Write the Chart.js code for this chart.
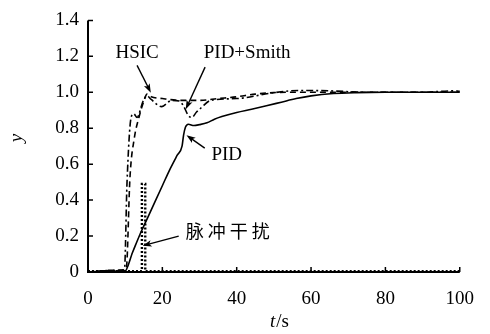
<!DOCTYPE html>
<html>
<head>
<meta charset="utf-8">
<script src="https://cdn.jsdelivr.net/npm/chart.js@4/dist/chart.umd.min.js"></script>
<style>
html,body{margin:0;padding:0;background:#fff;}
#wrap{width:490px;height:334px;position:relative;}
</style>
</head>
<body>
<div id="wrap"><canvas id="c" width="490" height="334"></canvas></div>
<script>
// ---- data ----
const xTicks = [0, 20, 40, 60, 80, 100];
const yTicks = [0, 0.2, 0.4, 0.6, 0.8, 1.0, 1.2, 1.4];

const pidT = [0, 3, 5, 7, 8.5, 9.8, 12, 14, 16, 18, 20, 22, 24, 25.3, 25.7, 26.2, 27, 28.5, 30, 32, 34, 36, 40, 44, 48, 52, 56, 60, 66, 72, 80, 100];
const pidY = [0, 0.004, 0.008, 0.004, 0.01, 0, 0.11, 0.21, 0.3, 0.39, 0.48, 0.57, 0.65, 0.7, 0.76, 0.805, 0.822, 0.815, 0.82, 0.83, 0.85, 0.865, 0.888, 0.906, 0.925, 0.945, 0.965, 0.98, 0.993, 0.998, 1.0, 1.0];

const hsicT = [0, 4, 6, 8, 9.5, 10.3, 11.3, 12.5, 13.7, 15, 15.9, 17, 20, 25, 30, 35, 40, 45, 50, 55, 100];
const hsicY = [0, 0.006, 0.01, 0.008, 0.012, 0.02, 0.53, 0.75, 0.86, 0.95, 0.99, 0.975, 0.965, 0.955, 0.955, 0.965, 0.975, 0.99, 0.998, 1.0, 1.0];

const smithT = [0, 5, 8, 9.8, 10.5, 11.6, 12.3, 13.2, 14.8, 15.9, 17, 19.8, 22.5, 24.5, 25.7, 27, 27.9, 29.2, 30.5, 33, 40, 50, 57, 65, 75, 90, 98, 100];
const smithY = [0, 0.005, 0.01, 0.01, 0.5, 0.86, 0.88, 0.86, 0.95, 0.98, 0.96, 0.92, 0.955, 0.952, 0.924, 0.87, 0.86, 0.89, 0.915, 0.955, 0.965, 0.998, 1.01, 1.008, 1.0, 1.0, 1.008, 1.005];

const pulseT = [0, 14.5, 14.5, 15.4, 15.4, 100];
const pulseY = [0.005, 0.005, 0.49, 0.49, 0.005, 0.005];

const labels = ["HSIC", "PID+Smith", "PID", "脉冲干扰"];
const xTitle = ["t", "/s"];
const yTitle = "y";

// ---- build ----
const pts = (t, y) => t.map((v, i) => ({x: v, y: y[i]}));
const serif = "'Liberation Serif','Times New Roman',serif";

const annotations = [
  {text: labels[0], tx: 13.2, ty: 1.22, align: 'center', from: [13.2, 1.15], to: [16.9, 0.998]},
  {text: labels[1], tx: 42.8, ty: 1.22, align: 'center', from: [31.5, 1.14], to: [26.3, 0.906]},
  {text: labels[2], tx: 33.2, ty: 0.651, align: 'left', from: [31.4, 0.689], to: [26.5, 0.761]},
  {text: labels[3], tx: 26.3, ty: 0.228, align: 'left', cjk: true, from: [24.4, 0.2], to: [14.7, 0.146]}
];

function arrow(ctx, x1, y1, x2, y2) {
  const a = Math.atan2(y2 - y1, x2 - x1);
  const L = 9, W = 3.2;
  ctx.beginPath();
  ctx.moveTo(x1, y1);
  ctx.lineTo(x2 - Math.cos(a) * L * 0.7, y2 - Math.sin(a) * L * 0.7);
  ctx.lineWidth = 1.4;
  ctx.setLineDash([]);
  ctx.stroke();
  ctx.beginPath();
  ctx.moveTo(x2, y2);
  ctx.lineTo(x2 - Math.cos(a) * L - Math.sin(a) * W, y2 - Math.sin(a) * L + Math.cos(a) * W);
  ctx.lineTo(x2 - Math.cos(a) * L * 0.75, y2 - Math.sin(a) * L * 0.75);
  ctx.lineTo(x2 - Math.cos(a) * L + Math.sin(a) * W, y2 - Math.sin(a) * L - Math.cos(a) * W);
  ctx.closePath();
  ctx.fill();
}

const decor = {
  id: 'decor',
  afterDraw(chart) {
    const ctx = chart.ctx, xs = chart.scales.x, ys = chart.scales.y, ca = chart.chartArea;
    ctx.save();
    ctx.strokeStyle = '#000'; ctx.fillStyle = '#000';
    // axes
    ctx.lineWidth = 2;
    ctx.setLineDash([]);
    ctx.beginPath();
    ctx.moveTo(ca.left, ys.getPixelForValue(1.4));
    ctx.lineTo(ca.left, ca.bottom);
    ctx.lineTo(xs.getPixelForValue(100), ca.bottom);
    ctx.stroke();
    // inward ticks
    ctx.lineWidth = 1.5;
    ctx.beginPath();
    yTicks.forEach(v => { const p = ys.getPixelForValue(v); ctx.moveTo(ca.left, p); ctx.lineTo(ca.left + 5, p); });
    xTicks.forEach(v => { const p = xs.getPixelForValue(v); ctx.moveTo(p, ca.bottom); ctx.lineTo(p, ca.bottom - 5); });
    ctx.stroke();
    // axis titles
    ctx.textBaseline = 'middle';
    ctx.font = "italic 19px " + serif;
    ctx.textAlign = 'center';
    ctx.save();
    ctx.translate(17, 138);
    ctx.rotate(-Math.PI / 2);
    ctx.fillText(yTitle, 0, 0);
    ctx.restore();
    const w1 = ctx.measureText(xTitle[0]).width;
    ctx.font = "19px " + serif;
    const w2 = ctx.measureText(xTitle[1]).width;
    const cx = (ca.left + ca.right) / 2 + 5, start = cx - (w1 + w2) / 2;
    ctx.textAlign = 'left';
    ctx.font = "italic 19px " + serif;
    ctx.fillText(xTitle[0], start, 322);
    ctx.font = "19px " + serif;
    ctx.fillText(xTitle[1], start + w1 + 1, 322);
    // annotations
    annotations.forEach(a => {
      ctx.font = a.cjk ? "18px 'Noto Sans CJK SC',sans-serif" : "19px " + serif;
      if (a.cjk) ctx.letterSpacing = '4px'; else ctx.letterSpacing = '0px';
      ctx.textAlign = a.align;
      ctx.fillText(a.text, xs.getPixelForValue(a.tx), ys.getPixelForValue(a.ty));
      arrow(ctx, xs.getPixelForValue(a.from[0]), ys.getPixelForValue(a.from[1]),
                 xs.getPixelForValue(a.to[0]), ys.getPixelForValue(a.to[1]));
    });
    ctx.letterSpacing = '0px';
    ctx.restore();
  }
};

const common = {fill: false, pointRadius: 0, borderColor: '#000', tension: 0.25, cubicInterpolationMode: 'monotone'};

new Chart(document.getElementById('c'), {
  type: 'line',
  data: {
    datasets: [
      Object.assign({label: 'pulse', data: pts(pulseT, pulseY), borderWidth: 2.4, borderDash: [2, 2], tension: 0}, common, {tension: 0, cubicInterpolationMode: 'default'}),
      Object.assign({label: 'PID', data: pts(pidT, pidY), borderWidth: 1.6}, common),
      Object.assign({label: 'HSIC', data: pts(hsicT, hsicY), borderWidth: 1.6, borderDash: [6, 4]}, common),
      Object.assign({label: 'PID+Smith', data: pts(smithT, smithY), borderWidth: 1.6, borderDash: [7, 3, 2, 3]}, common)
    ]
  },
  options: {
    responsive: false,
    animation: false,
    devicePixelRatio: 1,
    clip: false,
    layout: {padding: {left: 0, right: 25, top: 14, bottom: 0}},
    plugins: {legend: {display: false}, tooltip: {enabled: false}},
    scales: {
      x: {
        type: 'linear', min: 0, max: 100,
        afterFit(s) { s.height = 62; },
        afterBuildTicks(s) { s.ticks = xTicks.map(v => ({value: v})); },
        grid: {display: false, drawTicks: false},
        border: {display: false},
        ticks: {color: '#000', font: {family: serif, size: 19}, padding: 16, maxRotation: 0, callback: v => String(v)}
      },
      y: {
        type: 'linear', min: 0, max: 1.4,
        afterFit(s) { s.width = 88; },
        afterBuildTicks(s) { s.ticks = yTicks.map(v => ({value: v})); },
        grid: {display: false, drawTicks: false},
        border: {display: false},
        ticks: {color: '#000', font: {family: serif, size: 19}, padding: 9, callback: v => v === 0 ? '0' : Number(v).toFixed(1)}
      }
    }
  },
  plugins: [decor]
});
</script>
</body>
</html>
